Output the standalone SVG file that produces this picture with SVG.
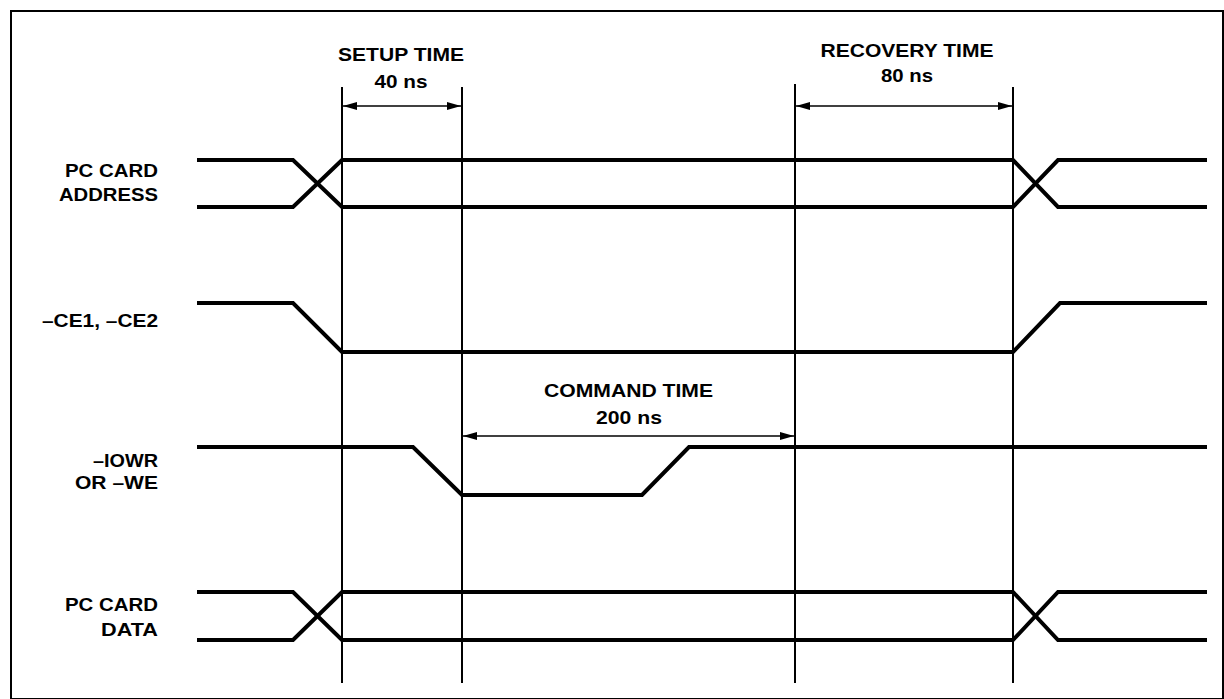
<svg xmlns="http://www.w3.org/2000/svg" width="1224" height="699" viewBox="0 0 1224 699">
<defs>
<style>
.sig{fill:none;stroke:#000;stroke-width:4;stroke-linejoin:miter}
.ref{fill:none;stroke:#000;stroke-width:2}
.dim{fill:none;stroke:#000;stroke-width:1.6;marker-start:url(#ah);marker-end:url(#ah)}
text{font-family:"Liberation Sans",Arial,Helvetica,sans-serif;font-weight:bold;font-size:19px;fill:#000}
.lbl{text-anchor:end}
.ttl{text-anchor:middle}
</style>
<marker id="ah" viewBox="0 0 14 8" refX="14" refY="4" markerWidth="14" markerHeight="8" markerUnits="userSpaceOnUse" orient="auto-start-reverse">
<path d="M0,0 L14,4 L0,8 Z" fill="#000"/>
</marker>
</defs>
<rect x="11" y="11" width="1212" height="688" fill="#fff" stroke="#000" stroke-width="2"/>

<g id="connectors">
<line class="ref" x1="342" y1="87" x2="342" y2="683"/>
<line class="ref" x1="462" y1="87" x2="462" y2="683"/>
<line class="ref" x1="795" y1="84" x2="795" y2="683"/>
<line class="ref" x1="1013" y1="87" x2="1013" y2="683"/>
<line class="dim" x1="343" y1="106" x2="461" y2="106"/>
<line class="dim" x1="796" y1="106" x2="1012" y2="106"/>
<line class="dim" x1="463" y1="436" x2="794" y2="436"/>
</g>

<g id="setup-time">
<text class="ttl" x="401" y="61" textLength="126" lengthAdjust="spacingAndGlyphs">SETUP TIME</text>
<text class="ttl" x="401" y="88" textLength="53" lengthAdjust="spacingAndGlyphs">40 ns</text>
</g>
<g id="recovery-time">
<text class="ttl" x="907" y="57" textLength="173" lengthAdjust="spacingAndGlyphs">RECOVERY TIME</text>
<text class="ttl" x="907" y="82" textLength="52" lengthAdjust="spacingAndGlyphs">80 ns</text>
</g>
<g id="command-time">
<text class="ttl" x="628.5" y="397" textLength="169" lengthAdjust="spacingAndGlyphs">COMMAND TIME</text>
<text class="ttl" x="629" y="424" textLength="66" lengthAdjust="spacingAndGlyphs">200 ns</text>
</g>

<g id="pc-card-address">
<text class="lbl" x="158" y="177" textLength="93" lengthAdjust="spacingAndGlyphs">PC CARD</text>
<text class="lbl" x="158" y="201" textLength="99" lengthAdjust="spacingAndGlyphs">ADDRESS</text>
<path class="sig" d="M197,160 H293 L342,207 H1013 L1058,160 H1207"/>
<path class="sig" d="M197,207 H293 L342,160 H1013 L1058,207 H1207"/>
</g>

<g id="ce">
<text class="lbl" x="158" y="327" textLength="116" lengthAdjust="spacingAndGlyphs">–CE1, –CE2</text>
<path class="sig" d="M197,303 H293 L342,352 H1013 L1060,303 H1207"/>
</g>

<g id="iowr">
<text class="lbl" x="158" y="467" textLength="65" lengthAdjust="spacingAndGlyphs">–IOWR</text>
<text class="lbl" x="158" y="489" textLength="83" lengthAdjust="spacingAndGlyphs">OR –WE</text>
<path class="sig" d="M197,447 H413 L462,495 H642 L689,447 H1207"/>
</g>

<g id="pc-card-data">
<text class="lbl" x="158" y="611" textLength="93" lengthAdjust="spacingAndGlyphs">PC CARD</text>
<text class="lbl" x="158" y="636" textLength="57" lengthAdjust="spacingAndGlyphs">DATA</text>
<path class="sig" d="M197,592 H293 L342,640 H1013 L1058,592 H1207"/>
<path class="sig" d="M197,640 H293 L342,592 H1013 L1058,640 H1207"/>
</g>
</svg>
